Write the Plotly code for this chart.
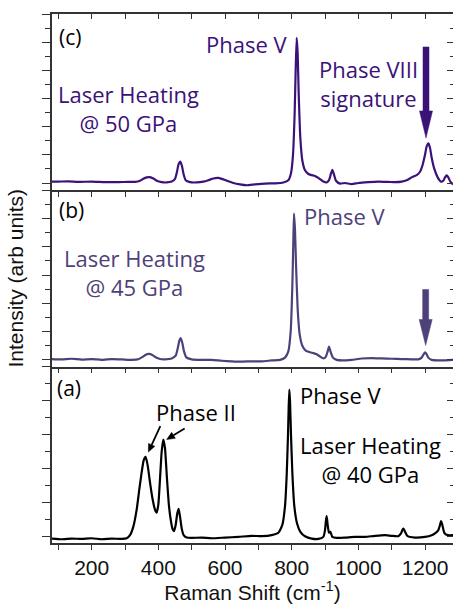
import math
import plotly.graph_objects as go

# ---------------- data ----------------
# Panel (c): laser heating at 50 GPa
c_shift = [81, 100, 130, 160, 200, 240, 280, 310, 330, 345, 355, 365, 375, 385, 395, 410, 425, 440,
           450, 456, 461, 466, 471, 476, 482, 495, 515, 535, 550, 565, 580, 595, 610, 625, 645, 665,
           690, 720, 750, 775, 790, 798, 804, 809, 812, 815, 818, 821, 826, 832, 840, 850, 860, 870,
           880, 895, 905, 912, 917, 922, 927, 933, 945, 960, 980, 1000, 1030, 1060, 1090, 1110, 1130,
           1145, 1160, 1175, 1185, 1193, 1200, 1205, 1210, 1215, 1220, 1228, 1238, 1248, 1255, 1260,
           1265, 1270, 1276, 1284]
c_int = [0.05, 0.05, 0.06, 0.04, 0.05, 0.03, 0.03, 0.04, 0.04, 0.08, 0.15, 0.20, 0.21, 0.16, 0.08, 0.03,
         0.02, 0.05, 0.15, 0.40, 0.68, 0.76, 0.60, 0.30, 0.10, 0.03, 0.02, 0.05, 0.10, 0.16, 0.18, 0.13,
         0.06, 0.00, -0.05, -0.08, -0.05, -0.02, -0.01, 0.02, 0.10, 0.35, 1.00, 2.50, 4.00, 5.15, 4.60,
         3.20, 1.60, 0.80, 0.45, 0.32, 0.28, 0.25, 0.18, 0.05, 0.02, 0.10, 0.30, 0.47, 0.30, 0.08, -0.02,
         0.00, -0.04, 0.00, 0.03, 0.05, 0.04, 0.03, 0.05, 0.10, 0.20, 0.28, 0.40, 0.65, 1.00, 1.30, 1.41,
         1.25, 0.90, 0.50, 0.20, 0.05, 0.08, 0.20, 0.27, 0.20, 0.05, -0.05]

# Panel (b): laser heating at 45 GPa
b_shift = [81, 110, 140, 170, 200, 230, 260, 290, 320, 340, 352, 362, 372, 382, 392, 405, 420, 440, 452,
           458, 463, 467, 472, 477, 484, 500, 530, 560, 590, 620, 650, 680, 710, 740, 765, 780, 790, 797,
           802, 805, 807, 810, 813, 818, 824, 832, 842, 855, 865, 875, 885, 895, 902, 908, 912, 917, 924,
           935, 950, 980, 1010, 1040, 1070, 1100, 1130, 1160, 1180, 1190, 1196, 1200, 1204, 1210, 1220,
           1250, 1284]
b_int = [0.03, 0.02, 0.04, 0.01, 0.03, 0.00, 0.03, 0.02, 0.00, 0.02, 0.10, 0.18, 0.21, 0.17, 0.09, 0.03,
         0.02, 0.05, 0.15, 0.40, 0.68, 0.77, 0.60, 0.30, 0.09, 0.02, 0.00, 0.00, -0.03, -0.05, -0.06,
         -0.05, -0.05, -0.02, 0.00, 0.08, 0.30, 1.00, 2.60, 4.20, 5.18, 4.60, 3.40, 1.80, 0.90, 0.50, 0.33,
         0.27, 0.24, 0.20, 0.12, 0.05, 0.10, 0.30, 0.47, 0.28, 0.08, 0.00, -0.02, 0.00, 0.05, 0.06, 0.05,
         0.04, 0.03, 0.02, 0.02, 0.08, 0.20, 0.27, 0.22, 0.08, 0.00, -0.02, 0.00]

# Panel (a): laser heating at 40 GPa
a_shift = [81, 110, 140, 170, 200, 230, 260, 290, 305, 315, 325, 335, 343, 350, 356, 362, 368, 375, 382,
           390, 395, 400, 405, 410, 415, 420, 426, 432, 438, 443, 447, 452, 457, 461, 465, 470, 476, 485,
           500, 530, 560, 600, 640, 680, 710, 740, 760, 772, 780, 785, 789, 791, 793, 795, 798, 802, 808,
           816, 826, 840, 860, 880, 895, 900, 903, 905, 908, 912, 916, 922, 935, 960, 990, 1020, 1050,
           1080, 1100, 1120, 1128, 1133, 1136, 1140, 1148, 1170, 1200, 1220, 1232, 1240, 1245, 1248,
           1252, 1258, 1268, 1284]
a_int = [-0.05, -0.07, -0.05, -0.06, -0.04, -0.07, -0.05, -0.06, -0.04, 0.05, 0.30, 0.80, 1.40, 1.90,
         2.25, 2.35, 2.10, 1.60, 1.15, 0.80, 0.71, 0.95, 1.70, 2.50, 2.86, 2.60, 1.70, 0.90, 0.45, 0.22,
         0.17, 0.35, 0.70, 0.82, 0.60, 0.25, 0.05, -0.02, -0.03, -0.02, -0.04, -0.02, 0.00, 0.03, 0.02,
         0.05, 0.12, 0.35, 0.90, 1.80, 3.00, 3.80, 4.33, 4.00, 3.00, 1.90, 0.90, 0.40, 0.15, 0.02, -0.05,
         -0.06, 0.00, 0.20, 0.50, 0.61, 0.35, 0.12, 0.15, 0.00, -0.03, -0.02, 0.00, 0.00, 0.03, 0.05, 0.03,
         0.02, 0.10, 0.22, 0.24, 0.15, 0.02, -0.02, 0.00, 0.05, 0.12, 0.20, 0.35, 0.46, 0.35, 0.12, 0.05,
         0.05]

x_ticks = [200, 400, 600, 800, 1000, 1200]

# ---------------- styles ----------------
COL_C = "#3b1278"
COL_B = "#4e4179"
COL_A = "#000000"
AXC = "#333333"
ANN_FONT = "Open Sans"
TICK_FONT = "Liberation Sans"
X_RANGE = [81, 1284]

fig = go.Figure()
fig.add_trace(go.Scatter(x=a_shift, y=a_int, mode="lines", xaxis="x", yaxis="y",
                         line=dict(color=COL_A, width=2.2, shape="spline", smoothing=0.5)))
fig.add_trace(go.Scatter(x=b_shift, y=b_int, mode="lines", xaxis="x2", yaxis="y2",
                         line=dict(color=COL_B, width=2.2, shape="spline", smoothing=0.5)))
fig.add_trace(go.Scatter(x=c_shift, y=c_int, mode="lines", xaxis="x3", yaxis="y3",
                         line=dict(color=COL_C, width=2.2, shape="spline", smoothing=0.5)))
# helper (invisible) traces so the right-hand tick axes and top tick axis get drawn
for xa, ya in [("x", "y4"), ("x2", "y5"), ("x4", "y6")]:
    fig.add_trace(go.Scatter(x=[None], y=[None], xaxis=xa, yaxis=ya, showlegend=False,
                             hoverinfo="skip"))

x_common = dict(range=X_RANGE, tickvals=x_ticks, ticks="outside", ticklen=5, tickwidth=1.3,
                tickcolor=AXC, showline=True, linecolor=AXC, linewidth=1.5, showgrid=False,
                zeroline=False, minor=dict(dtick=100, tick0=0, ticklen=5, tickwidth=1.3,
                                           tickcolor=AXC, ticks="outside"))

y_ranges = {"y": [-0.18, 5.0], "y2": [-0.24, 6.0], "y3": [-0.26, 6.0]}
domains = {"y": [0, 1 / 3], "y2": [1 / 3, 2 / 3], "y3": [2 / 3, 1]}


def yaxis_left(name, anchor):
    return dict(range=y_ranges[name], domain=domains[name], anchor=anchor, dtick=1, tick0=0,
                ticks="outside", ticklen=8, tickwidth=1.3, tickcolor=AXC, showticklabels=False,
                showline=True, linecolor=AXC, linewidth=1.5, showgrid=False, zeroline=False,
                minor=dict(dtick=0.5, tick0=0, ticklen=5, tickwidth=1.3, tickcolor=AXC,
                           ticks="outside"))


def yaxis_right(name, over, anchor):
    return dict(range=y_ranges[name], domain=domains[name], overlaying=over, anchor=anchor,
                side="right", dtick=1, tick0=0, ticks="inside", ticklen=6, tickwidth=1.3,
                tickcolor=AXC, showticklabels=False, showline=False, showgrid=False,
                zeroline=False,
                minor=dict(dtick=0.5, tick0=0, ticklen=3, tickwidth=1.3, tickcolor=AXC,
                           ticks="inside"))


fig.update_layout(
    width=453, height=604,
    margin=dict(l=52, r=0, t=14, b=61),
    paper_bgcolor="white", plot_bgcolor="white",
    showlegend=False,
    xaxis=dict(**x_common, anchor="y", showticklabels=True,
               tickfont=dict(family=TICK_FONT, size=21, color="#111111"),
               title=dict(text="Raman Shift (cm<sup>-1</sup>)", standoff=2,
                          font=dict(family=TICK_FONT, size=21, color="#111111"))),
    xaxis2=dict(**x_common, anchor="y2", showticklabels=False),
    xaxis3=dict(**x_common, anchor="y3", showticklabels=False),
    xaxis4=dict(range=X_RANGE, tickvals=x_ticks, overlaying="x3", anchor="y3", side="top",
                ticks="inside", ticklen=5, tickwidth=1.3, tickcolor=AXC, showticklabels=False,
                showline=True, linecolor=AXC, linewidth=1.5, showgrid=False, zeroline=False,
                minor=dict(dtick=100, tick0=0, ticklen=5, tickwidth=1.3, tickcolor=AXC,
                           ticks="inside")),
    yaxis=yaxis_left("y", "x"),
    yaxis2=yaxis_left("y2", "x2"),
    yaxis3=yaxis_left("y3", "x3"),
    yaxis4=yaxis_right("y", "y", "x"),
    yaxis5=yaxis_right("y2", "y2", "x2"),
    yaxis6=yaxis_right("y3", "y3", "x4"),
)

ann = []


def txt(text, x, y, xr, yr, color, xanchor="center", size=22, family=ANN_FONT):
    ann.append(dict(text=text, x=x, y=y, xref=xr, yref=yr, showarrow=False, xanchor=xanchor,
                    yanchor="middle", align="center",
                    font=dict(family=family, size=size, color=color)))


shapes = []


def block_arrow(x, y, xr, yr, color, length, head_len=27, head_w=13, shaft_w=6):
    # long downward block arrow, tip anchored at (x, y); sizes in pixels
    hw, sw = head_w / 2, shaft_w / 2
    path = (f"M{-sw},{length} L{sw},{length} L{sw},{head_len} L{hw},{head_len} L0,0 "
            f"L{-hw},{head_len} L{-sw},{head_len} Z")
    shapes.append(dict(type="path", xref=xr, yref=yr, xsizemode="pixel", ysizemode="pixel",
                       xanchor=x, yanchor=y, path=path, fillcolor=color,
                       line=dict(color=color, width=0.5)))


def thin_arrow(x, y, xr, yr, color, dx, dy, head_len=8, head_w=7):
    # thin arrow whose tip is at (x, y); tail offset (dx, dy) in pixels (y up)
    L = math.hypot(dx, dy)
    ux, uy = dx / L, dy / L          # unit vector tip -> tail
    px, py = -uy, ux                 # perpendicular
    bx, by = ux * head_len, uy * head_len
    p1 = (bx + px * head_w / 2, by + py * head_w / 2)
    p2 = (bx - px * head_w / 2, by - py * head_w / 2)
    shapes.append(dict(type="path", xref=xr, yref=yr, xsizemode="pixel", ysizemode="pixel",
                       xanchor=x, yanchor=y, path=f"M{bx:.2f},{by:.2f} L{dx},{dy}",
                       line=dict(color=color, width=1.8)))
    shapes.append(dict(type="path", xref=xr, yref=yr, xsizemode="pixel", ysizemode="pixel",
                       xanchor=x, yanchor=y,
                       path=f"M0,0 L{p1[0]:.2f},{p1[1]:.2f} L{p2[0]:.2f},{p2[1]:.2f} Z",
                       fillcolor=color, line=dict(color=color, width=0.5)))


# panel (c)
txt("(c)", 96, 5.2, "x3", "y3", "black", xanchor="left", size=21)
txt("Phase V", 795, 4.92, "x3", "y3", COL_C, xanchor="right")
txt("Phase VIII<br>signature", 1029, 3.54, "x3", "y3", COL_C)
txt("Laser Heating<br>@ 50 GPa", 309, 2.64, "x3", "y3", COL_C)
block_arrow(1203, 1.6, "x3", "y3", COL_C, 91)
# panel (b)
txt("(b)", 96, 5.32, "x2", "y2", "black", xanchor="left", size=21)
txt("Phase V", 831, 5.1, "x2", "y2", COL_B, xanchor="left")
txt("Laser Heating<br>@ 45 GPa", 327, 3.1, "x2", "y2", COL_B)
block_arrow(1202, 0.51, "x2", "y2", COL_B, 56, head_len=26)
# panel (a)
txt("(a)", 90, 4.36, "x", "y", "black", xanchor="left", size=21)
txt("Phase V", 819, 4.16, "x", "y", "black", xanchor="left")
txt("Phase II", 513, 3.66, "x", "y", "black")
txt("Laser Heating<br>@ 40 GPa", 1035, 2.26, "x", "y", "black")
thin_arrow(370, 2.49, "x", "y", "black", 12, 26)
thin_arrow(425, 2.86, "x", "y", "black", 18, 11)

# y-axis title
ann.append(dict(text="Intensity (arb units)", x=(15 - 52) / 401, y=0.5, xref="paper",
                yref="paper", xanchor="center", yanchor="middle", showarrow=False,
                textangle=-90, font=dict(family=TICK_FONT, size=21, color="#111111")))

fig.update_layout(annotations=ann, shapes=shapes)
fig.write_html("out.html")
